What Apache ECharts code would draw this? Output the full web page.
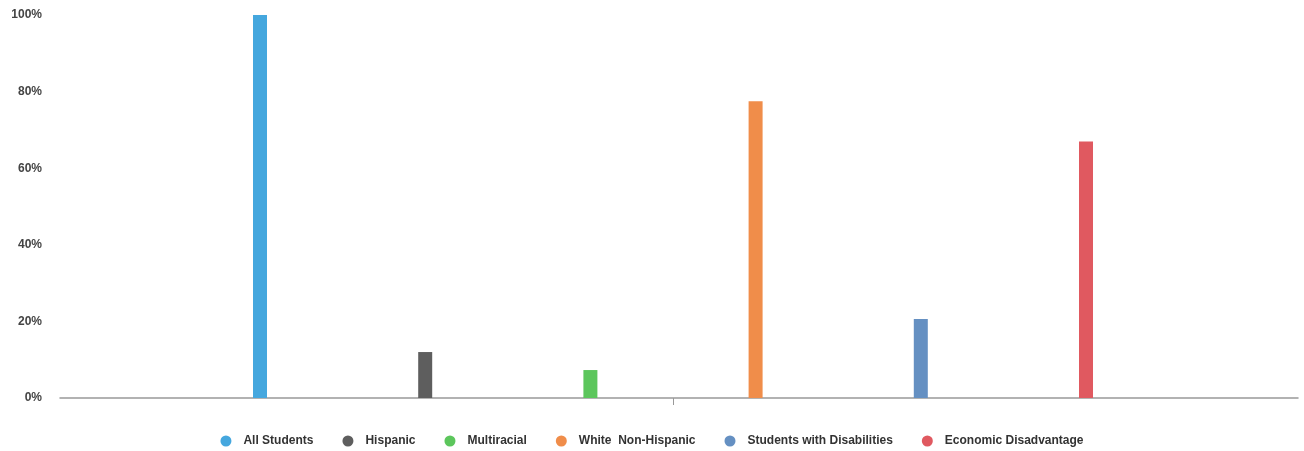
<!DOCTYPE html>
<html>
<head>
<meta charset="utf-8">
<script src="https://cdn.jsdelivr.net/npm/echarts@6/dist/echarts.min.js"></script>
<style>html,body{margin:0;padding:0;background:#fff}#c{width:1304px;height:451px}</style>
</head>
<body>
<div id="c"></div>
<script>
const categories = [''];
const seriesNames = ['All Students', 'Hispanic', 'Multiracial', 'White  Non-Hispanic', 'Students with Disabilities', 'Economic Disadvantage'];
const seriesValues = [100, 12, 7.3, 77.5, 20.6, 67];
const seriesColors = ['#45a7de', '#5e5e5e', '#5cc65c', '#f08d4a', '#6590c2', '#e05960'];
const yTicks = [0, 20, 40, 60, 80, 100];

const chart = echarts.init(document.getElementById('c'));
chart.setOption({
  animation: false,
  grid: [
    { left: 60, right: 6, top: 15, bottom: 53 },
    { left: 60, right: 18, top: 15, bottom: 53 }
  ],
  legend: {
    bottom: -1,
    left: 'center',
    icon: 'circle',
    itemWidth: 11, itemHeight: 11,
    itemGap: 29,
    textStyle: { fontFamily: 'Liberation Sans, Arial', fontSize: 12, color: '#333', fontWeight: 'bold', padding: [0, 0, 0, 7] },
    data: seriesNames
  },
  xAxis: [
    {
      gridIndex: 0, type: 'category', data: categories,
      axisLine: { lineStyle: { color: '#999', width: 1.5 } },
      axisTick: { show: false },
      axisLabel: { show: false }
    },
    {
      gridIndex: 1, type: 'category', data: categories,
      axisLine: { show: false },
      axisTick: { show: true, alignWithLabel: true, length: 7, lineStyle: { color: '#999' } },
      axisLabel: { show: false }
    }
  ],
  yAxis: [
    {
      gridIndex: 0, type: 'value',
      min: yTicks[0], max: yTicks[yTicks.length - 1], interval: 20,
      axisLine: { show: false }, axisTick: { show: false }, splitLine: { show: false },
      axisLabel: { formatter: '{value}%', margin: 18, color: '#444', fontFamily: 'Liberation Sans, Arial', fontSize: 12, fontWeight: 'bold' }
    },
    {
      gridIndex: 1, type: 'value',
      min: yTicks[0], max: yTicks[yTicks.length - 1], interval: 20,
      axisLine: { show: false }, axisTick: { show: false }, splitLine: { show: false },
      axisLabel: { show: false }
    }
  ],
  series: seriesNames.map((n, i) => ({
    name: n,
    type: 'bar',
    xAxisIndex: 1, yAxisIndex: 1,
    barWidth: 14,
    barGap: '1080%',
    itemStyle: { color: seriesColors[i] },
    data: [seriesValues[i]]
  }))
});
</script>
</body>
</html>
